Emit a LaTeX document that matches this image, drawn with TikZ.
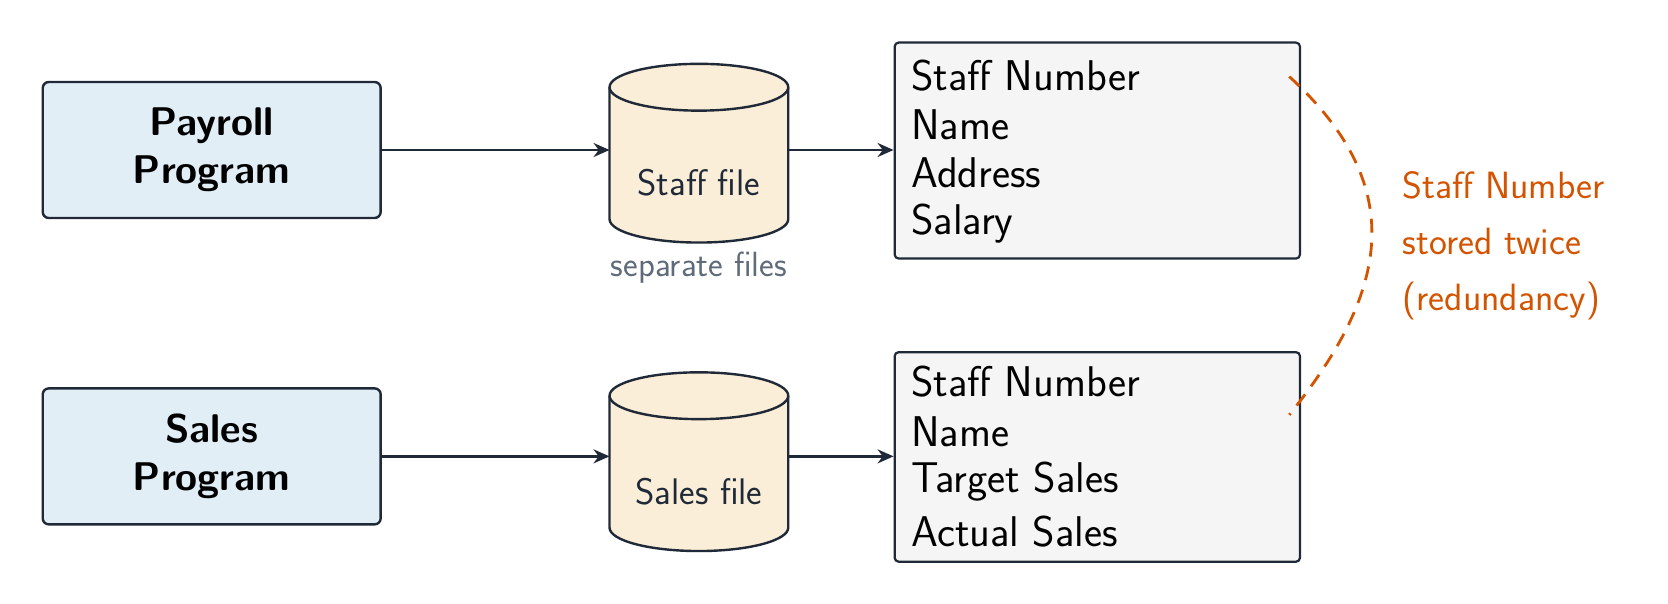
\documentclass[tikz,border=0pt]{standalone}
\usepackage{fontspec}
\setmainfont{Latin Modern Sans}
\usetikzlibrary{arrows.meta}
\definecolor{ink}{HTML}{1F2937}
\definecolor{prog}{HTML}{E1EEF6}
\definecolor{cyl}{HTML}{FAEED8}
\definecolor{rec}{HTML}{F5F5F5}
\definecolor{warn}{HTML}{D35400}
\definecolor{note}{HTML}{5F6B7A}
\begin{document}
\begin{tikzpicture}[x=0.532pt,y=-0.532pt,
  prog/.style={draw=ink,line width=1.2pt,fill=prog,rounded corners=3pt,minimum width=169pt,minimum height=68pt,align=center,font=\fontsize{20}{24}\selectfont\bfseries},
  rec/.style={draw=ink,line width=1.1pt,fill=rec,rounded corners=2pt,anchor=north west,inner sep=0pt},
  arr/.style={draw=ink,line width=1.2pt,-{Stealth[length=8pt,width=7pt]}},
  cylbody/.style={draw=ink,line width=1.2pt,fill=cyl},
  lbl/.style={anchor=west,font=\fontsize{21.5}{25}\selectfont,text=black}]
\useasboundingbox (0,0) rectangle (1568,567);
\node[prog] (pp) at (199,141) {Payroll\\Program};
\node[prog] (sp) at (199,429) {Sales\\Program};
% cylinders
\foreach \n/\yt/\lab in {sf/82/Staff file, slf/372/Sales file}{
  \path[cylbody] (573,\yt) -- (573,\yt+124) arc[start angle=180,end angle=0,x radius=84,y radius=22] -- (741,\yt) arc[start angle=0,end angle=-180,x radius=84,y radius=22] -- cycle;
  \draw[draw=ink,line width=1.2pt] (573,\yt) arc[start angle=180,end angle=0,x radius=84,y radius=22];
  \node[inner sep=0pt,minimum width=89pt,minimum height=89pt] (\n) at (657,\yt+62) {};
  \node[font=\fontsize{18.5}{22}\selectfont,text=ink] (\n t) at (657,\yt+90) {\lab};
}
\node[font=\fontsize{17.5}{20}\selectfont,text=note] (sep) at (657,252) {separate files};
% records
\node[rec,minimum width=202.7pt,minimum height=108pt] (r1) at (840,39) {};
\node[rec,minimum width=202.7pt,minimum height=104.8pt] (r2) at (840,330) {};
\node[lbl] (a1) at (850,71) {Staff Number};
\node[lbl] (a2) at (850,117) {Name};
\node[lbl] (a3) at (850,162) {Address};
\node[lbl] (a4) at (850,210) {Salary};
\node[lbl] (b1) at (850,359) {Staff Number};
\node[lbl] (b2) at (850,406) {Name};
\node[lbl] (b3) at (850,453) {Target Sales};
\node[lbl] (b4) at (850,500) {Actual Sales};
% arrows
\draw[arr] (pp.east) -- (sf.west |- pp.east);
\draw[arr] (sp.east) -- (slf.west |- sp.east);
\draw[arr] (sf.east |- pp.east) -- (r1.west |- pp.east);
\draw[arr] (slf.east |- sp.east) -- (r2.west |- sp.east);
% redundancy
\coordinate (c1) at (1212,72);
\coordinate (c2) at (1212,390);
\draw[warn,line width=1.4pt,dash pattern=on 7pt off 5pt] (c1) .. controls (1330,180) and (1300,280) .. (c2);
\node[anchor=west,align=left,font=\fontsize{19}{28}\selectfont,text=warn] (w) at (1312,231) {Staff Number\\stored twice\\(redundancy)};
\end{tikzpicture}
\end{document}
